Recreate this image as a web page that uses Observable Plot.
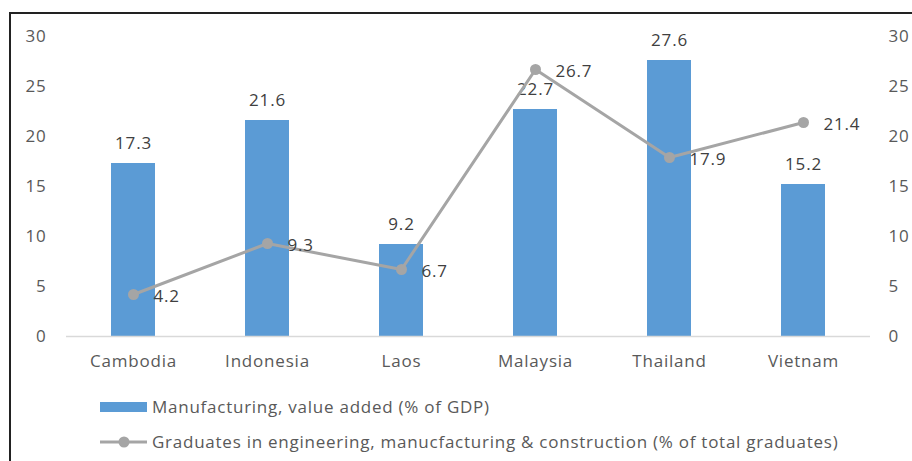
<!DOCTYPE html>
<html><head><meta charset="utf-8">
<script src="https://cdn.jsdelivr.net/npm/d3@7"></script>
<script src="https://cdn.jsdelivr.net/npm/@observablehq/plot@0.6"></script>
<style>
body{margin:0;background:#fff;font-family:"Open Sans",sans-serif;}
#wrap{position:relative;width:912px;height:461px;overflow:hidden;}
#frame{position:absolute;left:9px;top:12px;width:1000px;height:1000px;border:2px solid #222;box-sizing:border-box;}
#chart{position:absolute;left:0;top:0;}
#chart svg text{letter-spacing:0.8px;}
.leg{position:absolute;left:100px;display:flex;align-items:center;font-size:17px;letter-spacing:0.75px;color:#595959;white-space:nowrap;}
</style></head>
<body><div id="wrap"><div id="frame"></div><div id="chart"></div>
<div class="leg" style="top:395px"><svg width="52" height="20"><rect x="0" y="5" width="47" height="10" fill="#5B9BD5"/></svg><span id="l1"></span></div>
<div class="leg" style="top:430px"><svg width="52" height="20"><line x1="0" x2="47" y1="10" y2="10" stroke="#A5A5A5" stroke-width="3"/><circle cx="24" cy="10" r="5.5" fill="#A5A5A5"/></svg><span id="l2"></span></div>
</div>
<script>
const countries = ["Cambodia","Indonesia","Laos","Malaysia","Thailand","Vietnam"];
const manufacturing = [17.3,21.6,9.2,22.7,27.6,15.2];
const graduates = [4.2,9.3,6.7,26.7,17.9,21.4];
const yTicks = [0,5,10,15,20,25,30];
const seriesNames = ["Manufacturing, value added (% of GDP)","Graduates in engineering, manucfacturing & construction (% of total graduates)"];
document.getElementById("l1").textContent = seriesNames[0];
document.getElementById("l2").textContent = seriesNames[1];

const bars = countries.map((c,i)=>({c, v: manufacturing[i]}));
const pts = countries.map((c,i)=>({c, v: graduates[i]}));

const chart = Plot.plot({
  width: 912, height: 385,
  marginTop: 36, marginBottom: 49, marginLeft: 66, marginRight: 42,
  style: {fontFamily: '"Open Sans",sans-serif', fontSize: "17px", color: "#595959", background: "transparent"},
  x: {domain: countries, paddingInner: 0.67, paddingOuter: 0.335, label: null},
  y: {domain: [0,30], label: null},
  marks: [
    Plot.axisY({ticks: yTicks, anchor: "left", tickSize: 0, tickPadding: 20, label: null, fill: "#595959"}),
    Plot.axisY({ticks: yTicks, anchor: "right", tickSize: 0, tickPadding: 18, label: null, fill: "#595959"}),
    Plot.axisX({tickSize: 0, tickPadding: 18, label: null, fill: "#595959"}),
    Plot.barY(bars, {x: "c", y: "v", fill: "#5B9BD5"}),
    Plot.ruleY([0], {stroke: "#D9D9D9", strokeWidth: 1.5}),
    Plot.text(bars, {x: "c", y: "v", text: d => d.v.toFixed(1), dy: -20, fill: "#404040", fontSize: 17}),
    Plot.line(pts, {x: "c", y: "v", stroke: "#A5A5A5", strokeWidth: 3}),
    Plot.dot(pts, {x: "c", y: "v", r: 5.5, fill: "#A5A5A5"}),
    Plot.text(pts, {x: "c", y: "v", text: d => d.v.toFixed(1), dx: 20, dy: 2, textAnchor: "start", fill: "#404040", fontSize: 17})
  ]
});
document.getElementById("chart").appendChild(chart);
</script></body></html>
